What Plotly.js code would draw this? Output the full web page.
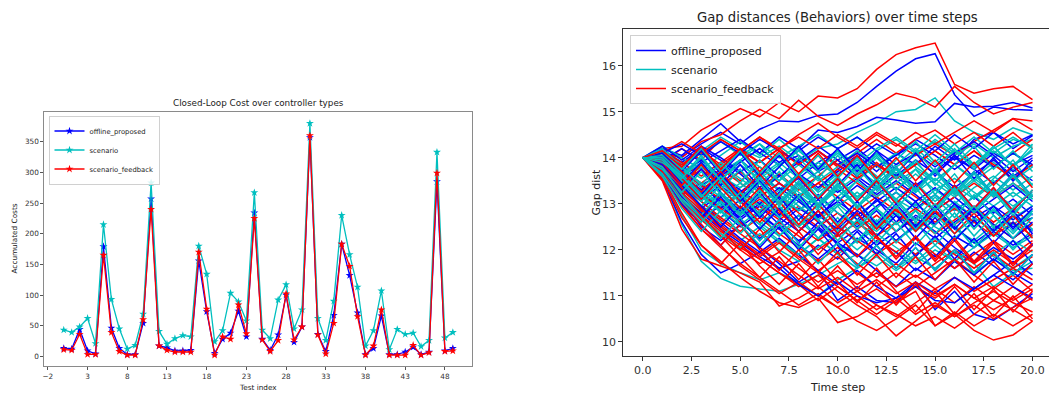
<!DOCTYPE html>
<html>
<head>
<meta charset="utf-8">
<script src="https://cdn.plot.ly/plotly-3.0.1.min.js"></script>
<style>
  html, body { margin: 0; padding: 0; overflow: hidden; background: #fff; }
  #chart { width: 1060px; height: 393px; }
</style>
</head>
<body>
<div id="chart"></div>
<script>
// ---------- Left chart: Closed-Loop Cost over controller types ----------
const testIndex = [0,1,2,3,4,5,6,7,8,9,10,11,12,13,14,15,16,17,18,19,20,21,22,23,24,25,26,27,28,29,30,31,32,33,34,35,36,37,38,39,40,41,42,43,44,45,46,47,48,49];
const costOffline = [13,12,44,9,4,179,46,13,3,3,54,257,17,14,9,9,10,156,73,5,28,38,74,32,234,28,10,35,100,23,48,357,36,8,67,183,132,71,3,13,66,3,3,7,15,3,7,285,9,13];
const costScenario = [43,39,48,62,21,215,93,45,12,18,69,283,41,20,29,34,32,180,134,24,42,103,89,58,267,43,29,92,117,45,76,380,62,26,90,230,166,113,17,42,107,11,44,36,38,16,26,333,30,39];
const costFeedback = [11,10,36,3,3,165,39,8,2,2,60,240,17,10,7,7,7,170,77,2,32,28,84,37,225,27,8,26,102,27,48,360,35,4,54,183,147,65,2,17,76,2,2,2,18,2,6,299,8,9];
const costTicks = [-2,3,8,13,18,23,28,33,38,43,48];

// ---------- Right chart: Gap distances (Behaviors) over time steps ----------
const timeSteps = [0,1,2,3,4,5,6,7,8,9,10,11,12,13,14,15,16,17,18,19,20];
const gapOffline = [
  [14,14.10,14.02,14.30,14.55,14.30,14.62,14.80,14.78,14.92,14.95,15.20,15.55,15.88,16.15,16.26,15.37,14.90,15.10,15.05,15.03],
  [14,14.20,14.05,14.40,14.74,14.35,14.10,14.45,14.20,14.60,14.55,14.68,14.88,14.82,14.75,14.78,15.18,15.10,15.12,15.20,15.08],
  [14,13.80,13.40,12.95,12.70,13.10,12.80,13.25,13.60,13.30,13.75,14.05,13.70,14.10,13.85,14.25,13.95,14.40,14.55,14.20,14.48],
  [14,13.55,12.60,11.90,11.50,11.70,11.95,11.60,11.75,12.10,11.80,12.25,12.00,11.70,12.15,11.85,12.30,12.05,12.40,12.10,12.35],
  [14,13.70,13.10,12.50,12.20,12.55,12.05,11.70,11.30,11.55,10.90,11.20,10.90,10.85,11.30,10.70,11.10,10.60,10.47,10.75,11.05],
  [14,13.90,13.60,13.85,13.50,13.20,13.55,13.10,12.85,13.20,12.80,12.50,12.85,12.40,12.75,12.55,12.95,12.60,12.85,12.50,12.70],
  [14,14.05,13.75,13.40,13.65,13.95,13.60,13.30,13.55,13.90,14.15,13.80,14.10,13.75,13.40,13.70,13.35,13.65,13.95,13.60,13.85],
  [14,13.65,13.20,13.45,13.00,12.65,12.95,12.55,12.20,12.50,12.15,11.85,12.20,11.95,11.55,11.90,11.60,11.95,11.65,11.35,11.70],
  [14,13.95,14.20,13.90,14.15,14.40,14.10,13.85,14.05,13.70,13.95,14.20,13.85,13.60,13.95,13.65,14.00,13.75,14.10,13.85,14.05],
  [14,13.60,13.05,12.70,12.95,12.60,12.25,12.55,12.90,12.65,12.30,12.60,12.95,13.25,12.90,13.20,12.85,13.15,12.80,13.10,12.75],
  [14,13.85,13.50,13.15,12.85,12.50,12.80,12.45,12.10,11.80,12.15,11.90,11.55,11.20,11.60,11.35,11.75,11.45,11.80,11.50,11.25],
  [14,14.15,13.90,14.20,13.95,13.65,13.30,13.60,13.95,14.25,13.95,13.60,13.30,13.65,13.35,13.70,14.05,13.75,13.45,13.80,13.50],
  [14,13.75,13.35,12.90,13.20,12.85,13.15,13.45,13.10,12.75,13.05,13.40,13.10,12.75,12.45,12.80,12.50,12.15,12.45,12.75,12.40],
  [14,13.90,13.55,13.25,12.90,13.25,13.60,13.30,13.65,13.35,13.70,14.00,14.30,14.05,14.40,14.15,14.50,14.20,14.55,14.30,14.50],
  [14,13.70,13.30,12.95,12.60,12.25,11.95,12.25,11.90,11.55,11.25,11.55,11.20,10.95,11.30,11.05,11.40,11.15,11.45,11.75,11.45],
  [14,13.95,13.70,13.40,13.05,12.70,13.00,12.70,12.40,12.75,12.45,12.85,12.55,12.20,12.55,12.25,12.60,12.90,12.55,12.25,12.60],
  [14,14.25,13.95,14.25,14.00,13.70,13.95,13.60,13.90,13.55,13.25,13.55,13.20,13.50,13.20,12.85,13.15,12.80,13.10,13.40,13.05],
  [14,13.80,13.45,13.10,13.40,13.05,12.75,12.45,12.75,12.45,12.15,12.45,12.10,12.40,12.70,12.40,12.05,11.75,12.05,11.80,12.10],
  [14,14.00,13.65,13.95,13.60,13.90,14.20,13.90,14.15,14.45,14.20,14.45,14.15,13.85,14.10,13.80,14.10,14.35,14.05,13.70,14.00],
  [14,13.65,13.15,12.80,12.45,12.15,11.85,11.60,11.25,11.00,11.30,11.00,10.85,10.95,11.20,10.90,10.85,11.15,11.45,11.20,10.95],
  [14,13.85,13.60,13.30,13.60,13.30,13.00,13.35,13.05,12.75,13.05,12.75,13.05,13.35,13.05,13.35,13.00,12.70,12.95,12.65,12.95],
  [14,14.10,14.30,14.05,14.35,14.10,14.40,14.15,13.90,14.15,13.85,14.10,13.80,14.05,14.30,14.05,13.75,14.05,13.80,14.10,13.85],
  [14,13.80,13.30,13.75,13.25,12.80,13.25,12.75,13.20,12.70,13.15,12.65,13.10,12.60,13.05,12.55,13.00,12.50,12.95,12.45,12.90],
  [14,13.95,13.55,13.10,13.55,13.05,13.50,13.00,13.45,12.95,13.40,13.85,13.35,13.80,13.30,13.75,13.25,13.70,13.20,13.65,13.15],
  [14,13.65,13.00,12.55,12.10,12.55,12.05,12.50,12.00,12.45,11.95,12.40,11.90,12.35,11.85,12.30,11.80,12.25,11.75,12.20,11.70],
  [14,14.10,13.70,14.15,13.65,14.10,13.60,14.05,13.55,13.10,13.55,13.05,13.50,13.00,13.45,12.95,13.40,12.90,13.35,12.85,13.30],
  [14,13.75,13.20,12.70,13.15,12.65,12.20,12.65,12.15,12.60,12.10,11.65,12.10,11.60,12.05,11.55,12.00,11.50,11.95,11.45,11.90],
  [14,13.90,13.45,13.90,13.40,13.85,13.35,13.80,14.25,13.75,14.20,13.70,14.15,13.65,14.10,13.60,14.05,13.55,14.00,13.50,13.95],
  [14,13.85,13.40,12.95,12.50,12.95,12.45,12.90,12.40,12.85,12.35,12.80,12.30,12.75,12.25,12.70,12.20,12.65,12.15,12.60,12.10],
  [14,14.05,13.65,13.20,13.65,13.15,12.70,13.15,12.65,13.10,12.60,13.05,12.55,13.00,12.50,12.95,12.45,12.90,12.40,12.85,12.35]
];
const gapScenario = [
  [14,14.20,13.90,14.15,14.45,14.20,14.00,14.25,13.95,14.20,14.30,14.55,14.75,15.00,15.05,15.30,14.80,14.55,14.40,14.65,14.50],
  [14,13.55,12.55,11.75,11.38,11.21,11.15,11.10,11.25,11.45,11.70,11.90,11.65,11.95,11.70,12.00,11.75,11.50,11.80,11.55,11.60],
  [14,13.60,12.75,12.00,11.70,11.50,11.35,11.50,11.30,11.00,11.35,11.60,11.85,11.55,11.85,11.60,11.95,11.70,11.20,11.50,11.75],
  [14,13.90,13.55,13.20,13.50,13.15,13.45,13.80,13.40,13.70,13.30,13.60,14.00,13.60,13.90,13.50,13.85,13.55,13.90,13.50,13.80],
  [14,14.00,13.70,13.95,13.60,13.35,13.70,13.30,13.65,13.25,13.55,13.15,13.50,13.10,13.45,13.05,13.40,13.10,13.45,13.75,13.40],
  [14,13.75,13.30,12.95,13.25,12.85,12.55,12.90,12.50,12.85,12.40,12.75,12.45,12.80,12.40,12.75,12.35,12.70,12.40,12.75,12.45],
  [14,14.15,13.85,14.10,14.35,14.05,14.30,14.00,14.25,14.50,14.20,14.45,14.15,14.40,14.10,14.35,14.05,14.30,14.00,14.25,14.40],
  [14,13.80,13.40,13.05,12.70,12.95,12.60,12.30,12.65,12.25,12.55,12.15,12.50,12.85,12.50,12.80,12.45,12.20,12.55,12.25,12.55],
  [14,13.95,13.65,13.35,13.70,13.95,13.60,13.90,13.55,13.30,13.65,13.90,13.55,13.85,14.20,13.85,14.15,13.80,14.15,13.85,14.15],
  [14,13.70,13.25,12.85,12.50,12.20,12.50,12.15,11.90,12.25,11.90,12.20,12.55,12.20,12.50,12.85,12.50,12.15,11.90,12.20,11.95],
  [14,14.05,13.80,13.55,13.85,13.55,13.25,13.60,13.25,12.95,13.30,12.95,13.25,13.60,13.25,13.55,13.20,13.55,13.25,12.95,13.25],
  [14,13.85,13.50,13.80,13.45,13.15,12.85,13.20,12.85,13.15,13.50,13.15,13.45,13.10,12.85,13.20,12.85,13.15,13.50,13.15,13.45],
  [14,14.25,14.00,13.75,14.05,14.35,14.05,14.40,14.05,13.75,14.10,13.75,13.45,13.80,14.05,14.40,14.10,14.45,14.10,14.40,14.25],
  [14,13.65,13.20,12.80,13.10,12.75,13.05,12.70,13.05,12.70,13.00,12.65,12.40,12.75,13.00,12.70,13.05,12.70,12.40,12.70,12.95],
  [14,13.90,13.60,13.30,13.00,13.35,13.60,13.30,13.65,13.90,13.60,13.95,13.60,13.30,13.65,13.30,13.00,13.35,13.60,13.30,13.60],
  [14,13.75,13.35,12.95,12.60,12.90,12.55,12.20,11.90,12.25,11.90,11.60,11.95,11.60,11.90,12.25,11.90,12.20,11.85,11.60,11.90],
  [14,14.10,13.85,14.10,13.80,14.10,13.80,13.50,13.85,13.50,13.80,14.15,13.80,14.10,13.80,13.50,13.85,13.50,13.80,14.10,13.80],
  [14,13.80,13.45,13.15,12.85,12.55,12.85,13.20,12.85,13.15,12.80,12.55,12.90,12.55,12.85,12.50,12.25,12.60,12.85,12.55,12.85],
  [14,13.95,13.60,13.90,13.55,13.85,13.55,13.85,14.15,13.80,14.15,13.85,14.20,14.45,14.15,14.50,14.15,13.85,14.20,14.45,14.20],
  [14,13.60,13.10,12.70,12.35,12.05,12.35,12.00,11.75,12.05,12.35,12.00,12.35,12.05,11.75,12.10,11.75,12.05,12.35,12.05,12.30],
  [14,14.05,13.75,13.45,13.15,13.45,13.15,12.85,13.20,12.85,13.15,13.50,13.15,13.45,13.75,13.45,13.15,13.50,13.15,13.45,13.10],
  [14,13.85,13.55,13.25,12.95,13.25,12.95,13.30,12.95,12.65,12.95,13.25,12.90,13.25,12.95,13.30,13.55,13.25,12.95,13.25,12.95],
  [14,13.80,13.35,13.90,13.30,13.75,13.20,13.70,13.15,13.60,13.05,13.50,13.85,13.30,13.75,13.20,13.65,13.10,13.55,13.95,13.40],
  [14,14.10,13.60,14.05,13.50,13.95,14.30,13.80,14.20,13.70,14.15,13.65,14.05,13.55,13.95,13.40,13.85,14.25,13.75,14.15,13.70],
  [14,13.70,13.10,12.75,13.25,12.80,13.30,12.85,13.35,12.90,13.40,12.95,12.50,12.95,12.45,12.90,13.35,12.85,13.30,12.80,13.20],
  [14,13.90,13.45,12.95,13.40,12.90,12.45,12.95,12.50,13.00,12.55,13.05,12.60,13.10,12.65,13.15,12.70,13.20,12.75,12.35,12.80],
  [14,14.15,13.75,14.20,13.70,14.15,13.65,14.10,13.60,14.05,13.55,14.00,13.50,13.95,14.35,13.90,14.30,13.85,14.25,13.80,14.20],
  [14,13.60,12.90,12.40,12.85,12.35,12.80,12.30,12.75,12.25,12.70,12.20,12.65,12.15,12.60,12.10,12.55,12.05,12.50,12.00,12.45],
  [14,13.95,13.50,13.05,13.50,13.00,13.45,12.95,13.40,12.90,13.35,13.80,13.30,13.75,13.25,13.70,13.20,13.65,13.15,13.60,13.10],
  [14,14.05,13.65,13.20,12.80,13.25,12.75,13.20,13.65,13.15,13.60,13.10,13.55,13.05,12.60,13.00,12.55,12.95,12.50,12.90,13.30],
  [14,13.75,13.25,13.70,13.20,12.75,13.20,12.70,13.15,12.65,12.20,12.65,12.15,12.60,12.10,12.55,12.95,12.45,12.90,12.40,12.85],
  [14,14.20,13.80,13.40,13.90,13.45,13.95,13.50,14.00,13.55,14.05,13.60,14.10,13.65,14.15,13.70,14.20,13.75,14.25,13.80,14.30],
  [14,13.65,13.05,12.60,13.05,12.55,12.10,12.55,12.05,12.50,12.95,12.45,12.90,12.40,12.85,12.35,12.80,12.30,12.75,12.25,12.70],
  [14,13.90,13.60,13.15,13.60,13.10,13.55,13.05,13.50,13.00,13.45,12.95,13.40,12.90,13.35,12.85,13.30,12.80,13.25,12.75,13.20],
  [14,14.00,13.55,14.00,13.50,13.95,13.45,13.00,13.45,12.95,13.40,12.90,13.35,13.80,13.30,13.75,13.25,13.70,13.20,13.65,13.15],
  [14,13.80,13.20,12.70,12.25,12.70,12.20,12.65,12.15,11.70,12.15,11.65,12.10,11.60,12.05,11.55,12.00,11.50,11.95,11.45,11.90]
];
const gapFeedback = [
  [14,14.20,14.25,14.60,14.83,15.07,14.89,15.20,15.00,15.34,15.30,15.50,15.92,16.24,16.39,16.49,15.59,15.40,15.50,15.55,15.26],
  [14,14.10,14.00,14.35,14.50,14.80,15.05,14.85,15.25,14.90,14.70,14.95,15.15,15.40,15.30,15.10,15.55,15.20,14.95,15.10,15.20],
  [14,13.90,14.20,13.95,14.40,14.15,14.45,14.20,14.50,14.75,14.45,14.20,14.50,14.25,14.55,14.30,14.05,14.35,14.60,14.85,14.80],
  [14,13.50,12.45,11.80,11.65,11.50,11.30,10.78,10.95,11.20,10.85,11.10,10.80,10.55,10.85,11.15,10.85,11.20,10.90,11.20,10.90],
  [14,13.60,12.80,12.10,11.75,11.40,11.10,10.85,10.75,10.95,10.42,10.55,10.80,10.60,10.35,10.55,10.30,10.60,10.90,10.70,10.45],
  [14,13.70,13.00,12.45,12.10,11.65,11.35,11.05,11.30,11.00,10.75,10.45,10.25,10.50,10.80,10.35,10.60,10.25,10.04,10.15,10.45],
  [14,13.80,13.20,12.70,12.35,12.05,11.80,11.50,11.20,11.45,11.10,10.80,10.55,10.13,10.45,10.80,10.55,10.85,11.10,10.85,10.65],
  [14,13.75,13.35,12.90,12.55,12.20,11.90,12.20,11.85,11.55,11.85,11.50,11.20,11.50,11.20,11.50,11.80,11.45,11.15,11.45,11.10],
  [14,13.95,13.60,13.30,13.60,13.25,12.95,12.65,12.95,12.60,12.30,12.60,12.25,11.95,12.25,11.90,11.60,11.90,12.20,11.90,12.20],
  [14,14.05,13.80,14.10,13.80,13.50,13.80,13.45,13.15,13.45,13.15,12.85,13.15,12.85,12.55,12.85,12.55,12.85,12.55,12.25,12.55],
  [14,13.85,13.45,13.75,13.40,13.70,13.35,13.65,13.30,13.60,13.95,13.60,13.90,13.55,13.85,14.15,13.85,14.15,13.80,14.10,14.40],
  [14,13.65,13.10,12.65,12.30,12.00,11.70,11.95,11.60,11.30,11.55,11.25,11.50,11.20,11.45,11.15,11.40,11.10,11.35,11.60,11.35],
  [14,13.90,13.55,13.20,12.90,13.20,12.85,13.15,12.80,12.50,12.80,12.45,12.75,12.40,12.70,12.35,12.65,12.95,12.60,12.90,12.55],
  [14,14.15,13.90,13.60,13.90,14.20,13.90,14.20,13.85,14.15,13.80,14.10,14.40,14.10,14.40,14.60,14.30,14.55,14.25,14.55,14.20],
  [14,13.70,13.15,12.75,12.40,12.10,11.80,11.50,11.25,10.90,11.20,10.90,10.60,10.90,11.20,10.95,11.25,10.95,10.70,10.95,11.25],
  [14,13.80,13.40,13.05,12.70,12.40,12.70,12.35,12.05,11.75,12.05,11.70,11.40,11.70,11.40,11.70,12.00,11.70,12.00,11.70,12.00],
  [14,14.00,13.75,13.45,13.75,13.45,13.15,13.45,13.15,13.45,13.75,13.45,13.15,13.45,13.15,12.85,13.15,13.45,13.15,13.45,13.15],
  [14,13.60,12.95,12.45,12.05,11.70,11.40,11.10,10.80,11.05,10.75,11.00,10.70,10.95,10.60,10.85,10.55,10.80,10.50,10.75,10.95],
  [14,13.85,13.50,13.20,12.90,12.60,12.30,12.60,12.30,12.00,12.30,12.60,12.30,12.60,12.90,12.60,12.90,12.60,12.30,12.60,12.30],
  [14,14.10,14.35,14.10,14.40,14.15,13.90,14.20,14.45,14.20,14.50,14.25,14.55,14.30,14.05,14.30,14.55,14.80,14.55,14.85,14.60],
  [14,13.75,13.30,12.95,12.65,12.35,12.05,11.75,11.45,11.15,11.40,11.10,11.35,11.05,11.30,11.00,11.25,10.95,11.20,10.90,11.15],
  [14,13.95,13.70,13.40,13.10,12.80,13.10,12.80,12.50,12.20,12.50,12.20,11.90,12.20,11.90,12.20,11.90,11.60,11.90,11.60,11.85],
  [14,14.05,13.85,14.15,13.85,14.15,14.45,14.15,13.85,14.15,13.85,13.55,13.85,13.55,13.85,14.15,13.85,14.15,13.85,13.55,13.85],
  [14,13.70,13.25,12.85,12.50,12.20,11.85,12.15,11.80,11.50,11.20,10.90,11.15,10.85,11.10,10.35,10.65,10.35,10.60,10.35,10.60],
  [14,13.70,13.05,12.55,12.10,12.55,12.00,11.55,12.00,11.50,11.95,11.45,11.90,11.40,11.85,11.35,11.80,11.30,11.75,11.25,11.70],
  [14,13.85,13.35,12.90,12.45,12.00,12.45,11.95,12.40,11.90,12.35,11.85,12.30,11.80,12.25,11.75,12.20,11.70,12.15,11.65,12.10],
  [14,13.55,12.70,12.10,11.70,12.15,11.65,11.25,11.70,11.20,11.65,11.15,11.60,11.10,10.65,11.10,10.60,11.05,10.55,11.00,10.50],
  [14,13.95,13.55,13.10,13.55,13.05,12.60,13.05,12.55,13.00,12.50,12.95,12.45,12.90,12.40,12.85,12.35,12.80,12.30,12.75,12.25],
  [14,14.05,13.70,13.25,13.70,13.20,13.65,13.15,13.60,13.10,13.55,13.05,13.50,13.00,13.45,12.95,13.40,12.90,13.35,12.85,13.30],
  [14,13.80,13.20,12.75,12.30,11.85,11.40,11.85,11.35,11.80,11.30,10.85,11.30,10.80,11.25,10.75,11.20,10.70,11.15,10.65,11.10],
  [14,13.90,13.40,13.85,13.35,12.90,13.35,12.85,12.40,12.85,12.35,12.80,12.30,11.85,12.30,11.80,12.25,11.75,12.20,11.70,12.15],
  [14,14.15,13.80,14.25,13.75,14.20,13.70,14.15,13.65,14.10,13.60,14.05,13.55,14.00,13.50,13.95,13.45,13.90,13.40,13.85,13.35]
];
const seriesNames = ['offline_proposed','scenario','scenario_feedback'];

// ---------- Build ----------
const W = 1060, H = 393;
const colBlue = '#0000ff', colCyan = '#00bfbf', colRed = '#ff0000';
const fontFam = 'DejaVu Sans, Liberation Sans, sans-serif';

const traces = [];
[[costOffline, colBlue], [costScenario, colCyan], [costFeedback, colRed]].forEach((p, i) => {
  traces.push({
    type: 'scatter', mode: 'lines+markers', x: testIndex, y: p[0], name: seriesNames[i],
    line: {color: p[1], width: 1.3}, marker: {symbol: 'star', size: 6, color: p[1]},
    xaxis: 'x', yaxis: 'y', legend: 'legend'
  });
});

const gapSets = [[gapOffline, colBlue], [gapScenario, colCyan], [gapFeedback, colRed]];
const nMax = Math.max(gapOffline.length, gapScenario.length, gapFeedback.length);
for (let k = 0; k < nMax; k++) {
  gapSets.forEach((s, i) => {
    if (k >= s[0].length) return;
    traces.push({
      type: 'scatter', mode: 'lines', x: timeSteps, y: s[0][k], name: seriesNames[i],
      line: {color: s[1], width: 1.5}, legendgroup: 'g' + i, showlegend: k === 0,
      xaxis: 'x2', yaxis: 'y2', legend: 'legend2', hoverinfo: 'skip'
    });
  });
}

const px = v => v / W;
const py = v => 1 - v / H;

const axBaseL = {
  showgrid: false, zeroline: false, showline: true, mirror: true, linecolor: '#8a8a8a', linewidth: 1,
  ticks: 'outside', ticklen: 3, tickcolor: '#555', tickfont: {size: 7.3, color: '#333', family: fontFam}
};
const axBaseR = {
  showgrid: false, zeroline: false, showline: true, mirror: true, linecolor: '#333', linewidth: 1,
  ticks: 'outside', ticklen: 4, tickcolor: '#333', tickfont: {size: 11, color: '#333', family: fontFam}
};

const layout = {
  width: W, height: H,
  margin: {l: 0, r: 0, t: 0, b: 0},
  paper_bgcolor: '#fff', plot_bgcolor: '#fff',
  font: {family: fontFam, color: '#222'},
  showlegend: true,
  xaxis: Object.assign({}, axBaseL, {domain: [px(44.3), px(472.3)], range: [-2.45, 51.45], tickmode: 'array', tickvals: costTicks, anchor: 'y'}),
  yaxis: Object.assign({}, axBaseL, {domain: [1 - 366 / H, 1 - 111.7 / H], range: [-15.8, 399], tick0: 0, dtick: 50, anchor: 'x'}),
  xaxis2: Object.assign({}, axBaseR, {domain: [px(623.3), px(1052)], range: [-1, 21], tick0: 0, dtick: 2.5, tickformat: '.1f', anchor: 'y2'}),
  yaxis2: Object.assign({}, axBaseR, {domain: [1 - 355.7 / H, 1 - 29.3 / H], range: [9.70, 16.79], tick0: 10, dtick: 1, anchor: 'x2'}),
  legend: {
    x: px(48.5), y: py(115.5), xanchor: 'left', yanchor: 'top',
    bgcolor: 'rgba(255,255,255,0.85)', bordercolor: '#d0d0d0', borderwidth: 1,
    font: {size: 6.8, color: '#222', family: fontFam}, itemwidth: 30, tracegroupgap: 0
  },
  legend2: {
    x: px(630), y: py(35), xanchor: 'left', yanchor: 'top',
    bgcolor: 'rgba(255,255,255,0.85)', bordercolor: '#d0d0d0', borderwidth: 1,
    font: {size: 11, color: '#222', family: fontFam}, itemwidth: 30, tracegroupgap: 0
  },
  annotations: [
    {text: 'Closed-Loop Cost over controller types', x: px(258.3), y: py(103.3), xref: 'paper', yref: 'paper',
     xanchor: 'center', yanchor: 'middle', showarrow: false, font: {size: 8.8, color: '#222', family: fontFam}},
    {text: 'Test index', x: px(258.3), y: py(387.5), xref: 'paper', yref: 'paper',
     xanchor: 'center', yanchor: 'middle', showarrow: false, font: {size: 7.3, color: '#222', family: fontFam}},
    {text: 'Accumulated Costs', x: px(13.5), y: py(239), xref: 'paper', yref: 'paper', textangle: -90,
     xanchor: 'center', yanchor: 'middle', showarrow: false, font: {size: 7.3, color: '#222', family: fontFam}},
    {text: 'Gap distances (Behaviors) over time steps', x: px(837.7), y: py(17.3), xref: 'paper', yref: 'paper',
     xanchor: 'center', yanchor: 'middle', showarrow: false, font: {size: 13.2, color: '#222', family: fontFam}},
    {text: 'Time step', x: px(837.7), y: py(387.3), xref: 'paper', yref: 'paper',
     xanchor: 'center', yanchor: 'middle', showarrow: false, font: {size: 11, color: '#222', family: fontFam}},
    {text: 'Gap dist', x: px(597), y: py(192.6), xref: 'paper', yref: 'paper', textangle: -90,
     xanchor: 'center', yanchor: 'middle', showarrow: false, font: {size: 11, color: '#222', family: fontFam}}
  ]
};

Plotly.newPlot('chart', traces, layout, {staticPlot: true, displayModeBar: false});
</script>
</body>
</html>
